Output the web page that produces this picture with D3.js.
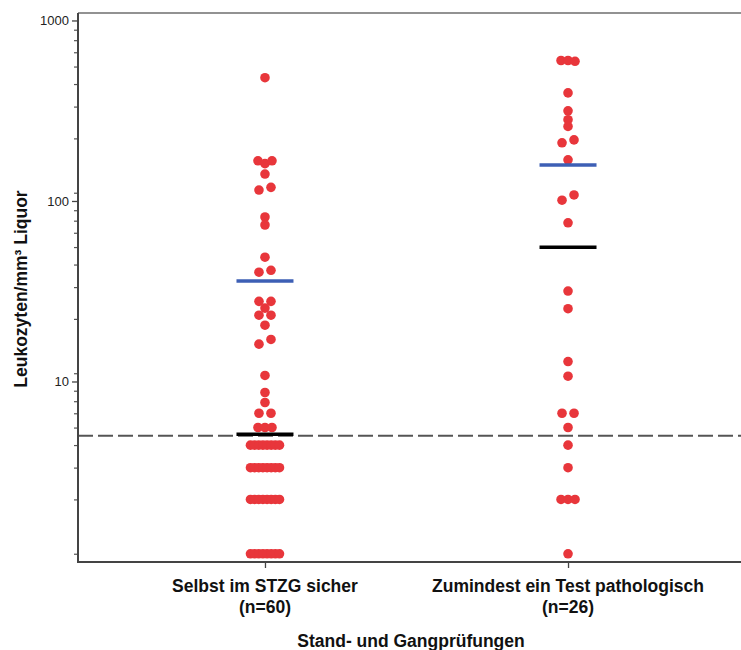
<!DOCTYPE html>
<html>
<head>
<meta charset="utf-8">
<script src="https://cdn.jsdelivr.net/npm/d3@7/dist/d3.min.js"></script>
<style>
  html, body { margin: 0; padding: 0; background: #fff; }
  svg { display: block; }
</style>
</head>
<body>
<svg id="chart" width="741" height="650"></svg>
<script>
// ---------------- data ----------------
const categories = ["Selbst im STZG sicher", "Zumindest ein Test pathologisch"];
const nLabels = ["(n=60)", "(n=26)"];
const groupA = [482, 167, 161, 167, 141, 115, 119, 81.5, 73.6, 48.8, 40.3, 41.3,
  27.8, 27.8, 25.5, 23.3, 23.3, 20.5, 16.1, 17.1, 10.8, 8.69, 7.65, 6.67, 6.67,
  5.56, 5.56, 5.56,
  4.44, 4.44, 4.44, 4.44, 4.44, 4.44, 4.44, 4.44,
  3.33, 3.33, 3.33, 3.33, 3.33, 3.33, 3.33, 3.33,
  2.22, 2.22, 2.22, 2.22, 2.22, 2.22, 2.22, 2.22,
  1.11, 1.11, 1.11, 1.11, 1.11, 1.11, 1.11, 1.11];
const groupB = [600, 600, 594, 397, 316, 282, 259, 210, 218, 169, 101, 108, 75.7,
  31.7, 25.3, 12.9, 10.7, 6.67, 6.67, 5.56, 4.44, 3.33, 2.22, 2.22, 2.22, 1.11];
const meanValues = [36, 158];
const medianValues = [5.1, 55.5];
const referenceValue = 5;
const majorTicks = [10, 100, 1000];
const yTitle = "Leukozyten/mm³ Liquor";
const xTitle = "Stand- und Gangprüfungen";

// ---------------- layout ----------------
const plotLeft = 78, plotTop = 13, plotBottom = 562, plotRight = 741;
const svg = d3.select("#chart");

const x = d3.scalePoint().domain(categories).range([plotLeft, 755]).padding(0.617);
const y = d3.scaleLog().domain([1, 1100]).range([plotBottom, plotTop]);

// minor ticks: SPSS style, 1/9 steps of each decade's upper bound
const minorTicks = [];
[10, 100, 1000].forEach(d => { for (let k = 1; k <= 8; k++) minorTicks.push(d * k / 9); });

// frame line at top
svg.append("line").attr("x1", plotLeft).attr("x2", plotRight).attr("y1", plotTop).attr("y2", plotTop)
  .attr("stroke", "#6e6e6e").attr("stroke-width", 1.5);

// reference dashed line
svg.append("line").attr("x1", plotLeft).attr("x2", plotRight)
  .attr("y1", y(referenceValue)).attr("y2", y(referenceValue))
  .attr("stroke", "#555").attr("stroke-width", 2).attr("stroke-dasharray", "15,5");

const font = "Liberation Sans, Arial, sans-serif";
const labelSize = 17.5;

// y axis
const yAxis = d3.axisLeft(y).tickValues(majorTicks).tickFormat(d3.format("d")).tickSize(6).tickPadding(3);
const gy = svg.append("g").attr("transform", `translate(${plotLeft},0)`).call(yAxis);
gy.select(".domain").remove();
gy.selectAll(".tick line").attr("stroke", "#444").attr("stroke-width", 1.3);
gy.selectAll(".tick text").attr("font-family", font).attr("font-size", 13).attr("fill", "#222");
const yMinor = d3.axisLeft(y).tickValues(minorTicks).tickFormat("").tickSize(4);
const gym = svg.append("g").attr("transform", `translate(${plotLeft},0)`).call(yMinor);
gym.select(".domain").remove();
gym.selectAll(".tick line").attr("stroke", "#555").attr("stroke-width", 1.2);
svg.append("line").attr("x1", plotLeft).attr("x2", plotLeft).attr("y1", plotTop).attr("y2", plotBottom)
  .attr("stroke", "#444").attr("stroke-width", 2);

// x axis
const xAxis = d3.axisBottom(x).tickSize(6).tickFormat("");
const gx = svg.append("g").attr("transform", `translate(0,${plotBottom})`).call(xAxis);
gx.select(".domain").remove();
gx.selectAll(".tick line").attr("stroke", "#444").attr("stroke-width", 1.3);
svg.append("line").attr("x1", plotLeft - 1).attr("x2", plotRight).attr("y1", plotBottom).attr("y2", plotBottom)
  .attr("stroke", "#444").attr("stroke-width", 2);

// category labels (two lines each)
categories.forEach((c, i) => {
  svg.append("text").attr("x", x(c)).attr("y", 592).attr("text-anchor", "middle")
    .attr("font-family", font).attr("font-weight", "bold").attr("font-size", labelSize).attr("fill", "#111")
    .text(c);
  svg.append("text").attr("x", x(c)).attr("y", 613).attr("text-anchor", "middle")
    .attr("font-family", font).attr("font-weight", "bold").attr("font-size", labelSize).attr("fill", "#111")
    .text(nLabels[i]);
});
svg.append("text").attr("x", 411).attr("y", 647).attr("text-anchor", "middle")
  .attr("font-family", font).attr("font-weight", "bold").attr("font-size", labelSize).attr("fill", "#111")
  .text(xTitle);
svg.append("text").attr("transform", "translate(27,289) rotate(-90)").attr("text-anchor", "middle")
  .attr("font-family", font).attr("font-weight", "bold").attr("font-size", 17.5).attr("fill", "#111")
  .text(yTitle);

// dot layout: cluster close values, spread horizontally
function layout(values, cx) {
  const pts = values.map(v => ({ v, py: y(v) }));
  const clusters = [];
  pts.forEach(p => {
    const c = clusters.find(cl => cl.some(q => Math.abs(q.py - p.py) < 6));
    if (c) c.push(p); else clusters.push([p]);
  });
  clusters.forEach(cl => {
    const k = cl.length;
    const s = k === 1 ? 0 : (k === 2 ? 12 : Math.min(7, 29 / (k - 1)));
    cl.forEach((p, i) => { p.px = cx + (i - (k - 1) / 2) * s; });
  });
  return pts;
}
[groupA, groupB].forEach((vals, i) => {
  const pts = layout(vals, x(categories[i]));
  svg.append("g").selectAll("circle").data(pts).join("circle")
    .attr("cx", d => d.px).attr("cy", d => d.py).attr("r", 4.8)
    .attr("fill", "#e8363b");
});

// mean and median bars
const halfW = 28.5;
categories.forEach((c, i) => {
  svg.append("line").attr("x1", x(c) - halfW).attr("x2", x(c) + halfW)
    .attr("y1", y(meanValues[i])).attr("y2", y(meanValues[i]))
    .attr("stroke", "#3d5fb5").attr("stroke-width", 3.5);
  svg.append("line").attr("x1", x(c) - halfW).attr("x2", x(c) + halfW)
    .attr("y1", y(medianValues[i])).attr("y2", y(medianValues[i]))
    .attr("stroke", "#000").attr("stroke-width", 3.5);
});
</script>
</body>
</html>
